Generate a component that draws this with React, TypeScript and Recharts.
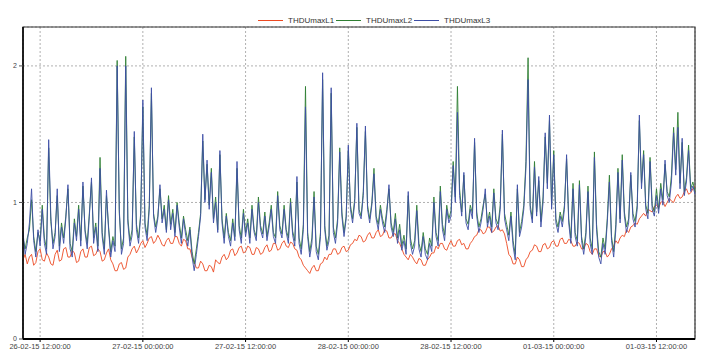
import React from "react"
import { LineChart, Line, XAxis, YAxis, CartesianGrid, ReferenceArea } from "recharts"

// hours since 26-02-15 10:00, one reading every quarter hour
const STEP_HOURS = 0.25

const tickHours = [2, 14, 26, 38, 50, 62, 74]
const tickLabels = [
  "26-02-15 12:00:00",
  "27-02-15 00:00:00",
  "27-02-15 12:00:00",
  "28-02-15 00:00:00",
  "28-02-15 12:00:00",
  "01-03-15 00:00:00",
  "01-03-15 12:00:00",
]

const thdL1 = [
  0.58, 0.62, 0.55, 0.6, 0.62, 0.54, 0.56, 0.64, 0.66, 0.58,
  0.57, 0.63, 0.6, 0.55, 0.54, 0.62, 0.65, 0.57, 0.58, 0.66,
  0.67, 0.6, 0.6, 0.65, 0.63, 0.56, 0.57, 0.64, 0.66, 0.6,
  0.6, 0.67, 0.68, 0.61, 0.62, 0.66, 0.64, 0.57, 0.58, 0.63,
  0.66, 0.58, 0.55, 0.5, 0.5, 0.55, 0.56, 0.51, 0.52, 0.6,
  0.62, 0.66, 0.68, 0.63, 0.66, 0.7, 0.72, 0.67, 0.7, 0.74,
  0.75, 0.7, 0.72, 0.76, 0.73, 0.69, 0.68, 0.72, 0.74, 0.7,
  0.7, 0.75, 0.75, 0.7, 0.68, 0.73, 0.72, 0.66, 0.66, 0.6,
  0.56, 0.52, 0.52, 0.57, 0.55, 0.5, 0.5, 0.54, 0.53, 0.49,
  0.58, 0.56, 0.55, 0.6, 0.62, 0.58, 0.6, 0.65, 0.66, 0.61,
  0.63, 0.67, 0.68, 0.63, 0.64, 0.68, 0.67, 0.62, 0.62, 0.67,
  0.66, 0.62, 0.63, 0.67, 0.69, 0.64, 0.65, 0.7, 0.7, 0.65,
  0.66, 0.7, 0.72, 0.68, 0.67, 0.71, 0.7, 0.66, 0.65, 0.6,
  0.58, 0.54, 0.52, 0.5, 0.48, 0.52, 0.54, 0.5, 0.5, 0.55,
  0.56, 0.6, 0.58, 0.62, 0.62, 0.66, 0.66, 0.62, 0.63, 0.67,
  0.68, 0.64, 0.65, 0.69, 0.7, 0.73, 0.72, 0.76, 0.75, 0.71,
  0.72, 0.76, 0.78, 0.74, 0.74, 0.78, 0.8, 0.75, 0.76, 0.8,
  0.79, 0.74, 0.74, 0.77, 0.77, 0.72, 0.7, 0.66, 0.62, 0.6,
  0.58, 0.62, 0.6, 0.57, 0.55, 0.59, 0.58, 0.54, 0.54, 0.58,
  0.6, 0.63, 0.63, 0.68, 0.66, 0.7, 0.7, 0.66, 0.65, 0.69,
  0.72, 0.68, 0.68, 0.72, 0.73, 0.69, 0.7, 0.66, 0.66, 0.7,
  0.72, 0.75, 0.76, 0.8, 0.8, 0.77, 0.78, 0.82, 0.82, 0.78,
  0.79, 0.82, 0.83, 0.79, 0.8, 0.77, 0.7, 0.62, 0.6, 0.55,
  0.55, 0.6, 0.58, 0.53, 0.53, 0.58, 0.6, 0.64, 0.65, 0.69,
  0.68, 0.64, 0.64, 0.69, 0.7, 0.66, 0.67, 0.71, 0.72, 0.68,
  0.68, 0.73, 0.74, 0.7, 0.7, 0.73, 0.72, 0.68, 0.68, 0.71,
  0.7, 0.66, 0.66, 0.7, 0.69, 0.64, 0.62, 0.66, 0.66, 0.61,
  0.6, 0.64, 0.64, 0.6, 0.62, 0.66, 0.68, 0.72, 0.7, 0.74,
  0.76, 0.75, 0.8, 0.78, 0.82, 0.83, 0.85, 0.84, 0.88, 0.9,
  0.92, 0.9, 0.95, 0.94, 0.93, 0.97, 0.98, 0.96, 1.0, 1.01,
  0.97, 1.0, 1.03, 1.01, 1.0, 1.04, 1.06, 1.03, 1.04, 1.08,
  1.1, 1.06, 1.07, 1.1, 1.12,
]

const thdL2 = [
  0.74, 0.66, 0.74, 0.8, 1.02, 0.75, 0.64, 0.78, 0.72, 0.98,
  0.74, 0.66, 1.4, 0.86, 0.7, 0.78, 1.05, 0.68, 0.85, 0.74,
  0.9, 1.1, 0.7, 0.64, 0.88, 0.75, 0.98, 0.72, 1.12, 0.8,
  0.7, 0.92, 1.15, 0.74, 0.85, 0.68, 1.33, 0.78, 0.66, 1.05,
  0.82, 0.64, 0.75, 0.68, 2.04, 0.92, 0.66, 0.74, 2.07, 0.88,
  0.72, 0.8, 1.48, 0.84, 0.74, 0.92, 1.7, 0.85, 0.76, 0.98,
  1.8, 0.92, 0.82, 0.9, 1.1, 0.88, 0.98, 0.8, 1.05, 0.84,
  0.95, 0.78, 1.0, 0.85, 0.74, 0.9, 0.8, 0.72, 0.82, 0.64,
  0.55, 0.66, 0.78, 0.92, 1.45, 1.02, 1.28, 0.98, 1.25, 0.88,
  1.04, 0.8, 1.35, 0.88, 0.74, 0.92, 0.78, 0.72, 0.88, 0.75,
  1.25, 0.83, 0.74, 0.95, 0.78, 0.88, 0.74, 0.98, 0.8, 0.75,
  1.04, 0.83, 0.77, 0.93, 0.75, 0.85, 0.98, 0.78, 0.74, 1.08,
  0.83, 0.77, 0.98, 0.8, 0.74, 1.03, 0.79, 0.72, 1.15, 0.74,
  0.66, 0.84, 1.85, 0.78, 0.64, 0.74, 1.08, 0.68, 0.62, 0.78,
  1.9, 0.83, 0.68, 0.76, 1.8, 0.82, 0.74, 0.88, 1.4, 0.93,
  0.78, 0.9, 1.38, 0.98, 0.88, 1.03, 1.55, 0.95, 0.9, 1.08,
  1.52, 0.98, 0.88, 1.0, 1.25, 0.9, 0.84, 0.98, 0.88, 0.82,
  0.95, 1.1, 0.85, 0.78, 0.92, 0.74, 0.84, 0.68, 0.76, 0.66,
  1.05, 0.74, 0.66, 0.72, 0.98, 0.7, 0.64, 0.78, 0.66, 0.62,
  0.74, 0.68, 1.04, 0.78, 0.72, 1.12, 0.84, 0.76, 0.98, 0.88,
  0.94, 1.3, 1.04, 1.85, 1.1, 0.93, 1.2, 0.88, 0.84, 0.98,
  0.92, 1.44, 0.93, 0.82, 0.88, 0.98, 1.06, 0.85, 0.93, 0.82,
  1.1, 0.88, 0.84, 0.98, 1.5, 0.92, 0.84, 0.76, 0.93, 0.72,
  0.62, 1.1, 0.78, 0.86, 0.98, 1.3, 2.06, 0.98, 0.88, 1.3,
  0.93, 1.16, 0.86, 1.04, 1.48, 1.14, 1.6, 0.98, 1.38, 0.88,
  0.82, 0.93, 0.86, 0.98, 1.32, 0.88, 0.74, 1.14, 0.78, 0.72,
  1.16, 0.75, 0.66, 0.78, 1.12, 0.74, 0.66, 1.37, 0.84, 0.64,
  0.6, 0.74, 0.66, 0.88, 1.2, 0.75, 0.64, 0.84, 1.25, 0.88,
  1.35, 0.93, 0.82, 0.88, 1.2, 0.92, 0.86, 0.98, 1.6, 1.14,
  1.38, 0.98, 0.92, 1.33, 0.98, 0.93, 1.1, 0.95, 1.14, 1.02,
  1.28, 1.08, 1.04, 1.2, 1.55, 1.24, 1.66, 1.14, 1.44, 1.08,
  1.18, 1.42, 1.1, 1.15, 1.08,
]

const thdL3 = [
  0.78, 0.62, 0.7, 0.85, 1.1, 0.72, 0.6, 0.8, 0.68, 0.95,
  0.7, 0.62, 1.46, 0.9, 0.66, 0.75, 1.1, 0.64, 0.82, 0.7,
  0.88, 1.13, 0.66, 0.6, 0.85, 0.72, 0.95, 0.68, 1.15, 0.78,
  0.66, 0.9, 1.18, 0.7, 0.82, 0.64, 1.25, 0.75, 0.62, 1.09,
  0.8, 0.6, 0.72, 0.64, 2.0, 0.95, 0.62, 0.7, 2.0, 0.85,
  0.68, 0.76, 1.52, 0.8, 0.7, 0.9, 1.75, 0.82, 0.72, 0.95,
  1.84, 0.9, 0.78, 0.88, 1.13, 0.85, 0.95, 0.78, 1.02, 0.8,
  0.92, 0.75, 0.98, 0.82, 0.7, 0.88, 0.76, 0.68, 0.8, 0.6,
  0.5, 0.62, 0.75, 0.9, 1.5, 1.0, 1.31, 0.95, 1.22, 0.85,
  1.0, 0.78, 1.38, 0.85, 0.7, 0.9, 0.75, 0.68, 0.85, 0.72,
  1.3, 0.8, 0.7, 0.92, 0.75, 0.85, 0.7, 0.95, 0.78, 0.72,
  1.0, 0.8, 0.74, 0.9, 0.72, 0.82, 0.95, 0.75, 0.7, 1.05,
  0.8, 0.74, 0.95, 0.78, 0.7, 1.0, 0.76, 0.68, 1.19, 0.7,
  0.62, 0.8, 1.7, 0.75, 0.6, 0.7, 1.04, 0.64, 0.58, 0.75,
  1.95, 0.8, 0.65, 0.72, 1.84, 0.78, 0.7, 0.85, 1.37, 0.9,
  0.75, 0.88, 1.42, 0.95, 0.85, 1.0, 1.58, 0.92, 0.88, 1.05,
  1.56, 0.95, 0.85, 0.98, 1.21, 0.88, 0.8, 0.95, 0.85, 0.78,
  0.92, 1.13, 0.82, 0.75, 0.88, 0.7, 0.8, 0.65, 0.72, 0.62,
  1.08, 0.7, 0.62, 0.68, 0.94, 0.66, 0.6, 0.75, 0.62, 0.58,
  0.7, 0.64, 1.0, 0.75, 0.68, 1.08, 0.8, 0.72, 0.95, 0.85,
  0.9, 1.27, 1.0, 1.66, 1.05, 0.9, 1.22, 0.85, 0.8, 0.95,
  0.88, 1.47, 0.9, 0.78, 0.85, 0.95, 1.1, 0.82, 0.9, 0.78,
  1.07, 0.85, 0.8, 0.95, 1.53, 0.88, 0.8, 0.72, 0.9, 0.68,
  0.58, 1.13, 0.75, 0.82, 0.95, 1.25, 1.9, 0.95, 0.85, 1.26,
  0.9, 1.19, 0.82, 1.0, 1.51, 1.1, 1.64, 0.95, 1.35, 0.85,
  0.78, 0.9, 0.82, 0.95, 1.35, 0.85, 0.7, 1.1, 0.75, 0.68,
  1.13, 0.72, 0.62, 0.75, 1.08, 0.7, 0.62, 1.33, 0.8, 0.6,
  0.55, 0.7, 0.62, 0.85, 1.15, 0.72, 0.6, 0.8, 1.22, 0.85,
  1.31, 0.9, 0.78, 0.85, 1.22, 0.88, 0.82, 0.95, 1.64, 1.1,
  1.35, 0.95, 0.88, 1.3, 0.95, 0.9, 1.05, 0.92, 1.1, 0.98,
  1.31, 1.05, 1.0, 1.15, 1.51, 1.2, 1.55, 1.1, 1.47, 1.05,
  1.15, 1.38, 1.08, 1.12, 1.06,
]

const seriesNames = ["THDUmaxL1", "THDUmaxL2", "THDUmaxL3"]
const seriesColors = ["#ec4a22", "#2f7f33", "#3d4ea6"]

const data = thdL3.map((_, i) => ({
  t: i * STEP_HOURS,
  L1: thdL1[i],
  L2: thdL2[i],
  L3: thdL3[i],
}))

const X_MAX = (thdL3.length - 1) * STEP_HOURS
const Y_MAX = 2.285
const font = "'Liberation Sans', Arial, sans-serif"

// legend sits above the plot frame, like the original export
function Legend() {
  const itemX = [258, 336, 414]
  return (
    <svg width={709} height={27} style={{ position: "absolute", left: 0, top: 0 }}>
      {seriesNames.map((name, i) => (
        <g key={name}>
          <line x1={itemX[i]} x2={itemX[i] + 25} y1={20.5} y2={20.5} stroke={seriesColors[i]} strokeWidth={1} />
          <text x={itemX[i] + 30} y={23} fontSize={8} fontFamily={font} fill="#333">
            {name}
          </text>
        </g>
      ))}
    </svg>
  )
}

export default function App() {
  return (
    <div style={{ position: "absolute", left: 0, top: 0, width: 709, height: 358, background: "#fff" }}>
      <LineChart width={709} height={358} data={data} margin={{ top: 27, right: 14, bottom: 0, left: 0 }}>
        <CartesianGrid stroke="#b0b0b0" strokeDasharray="2 2" />
        <XAxis
          dataKey="t"
          type="number"
          domain={[0, X_MAX]}
          ticks={tickHours}
          tickFormatter={(v) => tickLabels[tickHours.indexOf(v)] ?? ""}
          height={19}
          tickSize={3}
          tick={{ fontSize: 7.5, fill: "#444", fontFamily: font }}
          stroke="#000"
          axisLine={{ stroke: "#000", strokeWidth: 2 }}
          interval={0}
        />
        <YAxis
          type="number"
          domain={[0, Y_MAX]}
          ticks={[0, 1, 2]}
          width={23}
          tickSize={4}
          tick={{ fontSize: 7, fill: "#444", fontFamily: font }}
          axisLine={{ stroke: "#000", strokeWidth: 1.5 }}
          stroke="#555"
        />
        <ReferenceArea x1={0} x2={X_MAX} y1={0} y2={Y_MAX} fill="none" stroke="#333" strokeWidth={1.2} />
        <Line dataKey="L1" stroke={seriesColors[0]} strokeWidth={0.9} dot={false} isAnimationActive={false} />
        <Line dataKey="L2" stroke={seriesColors[1]} strokeWidth={0.9} dot={false} isAnimationActive={false} />
        <Line dataKey="L3" stroke={seriesColors[2]} strokeWidth={0.9} dot={false} isAnimationActive={false} />
      </LineChart>
      <Legend />
    </div>
  )
}
